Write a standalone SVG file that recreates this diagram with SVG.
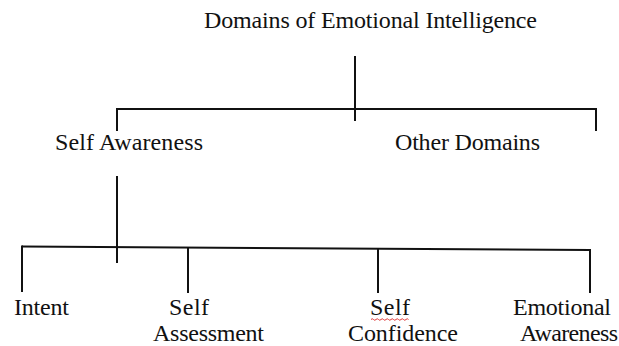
<svg xmlns="http://www.w3.org/2000/svg" width="619" height="346" viewBox="0 0 619 346">
<style>
.t{font-family:"Liberation Serif","Times New Roman",serif;font-size:24px;fill:#111;}
.c line{stroke:#111;stroke-width:2;}
</style>
<rect width="619" height="346" fill="#fff"/>
<g class="c" id="connectors">
<line x1="355" y1="56" x2="355" y2="121"/>
<line x1="117" y1="109" x2="596" y2="109"/>
<line x1="117" y1="108" x2="117" y2="131"/>
<line x1="596" y1="108" x2="596" y2="131"/>
<line x1="117" y1="176" x2="117" y2="263"/>
<line x1="22" y1="246.5" x2="590" y2="250"/>
<line x1="22" y1="245.5" x2="22" y2="292"/>
<line x1="188" y1="247.5" x2="188" y2="293"/>
<line x1="378" y1="248.5" x2="378" y2="293"/>
<line x1="590" y1="249" x2="590" y2="293"/>
</g>
<g id="root"><text class="t" x="204" y="28" textLength="333">Domains of Emotional Intelligence</text></g>
<g id="self-awareness"><text class="t" x="55" y="150" textLength="148">Self Awareness</text></g>
<g id="other-domains"><text class="t" x="395" y="150" textLength="145">Other Domains</text></g>
<g id="intent"><text class="t" x="14" y="315" textLength="55">Intent</text></g>
<g id="self-assessment"><text class="t" x="169" y="315" textLength="40">Self</text><text class="t" x="153" y="341" textLength="111">Assessment</text></g>
<g id="self-confidence"><text class="t" x="370" y="315" textLength="40">Self</text><text class="t" x="348" y="341" textLength="110">Confidence</text>
<path d="M371 319.5 q1.25 -1.5 2.5 0 t2.5 0 t2.5 0 t2.5 0 t2.5 0 t2.5 0 t2.5 0 t2.5 0 t2.5 0 t2.5 0 t2.5 0 t2.5 0 t2.5 0 t2.5 0 t2.5 0" fill="none" stroke="#d22" stroke-width="0.9"/></g>
<g id="emotional-awareness"><text class="t" x="513" y="315" textLength="98">Emotional</text><text class="t" x="520" y="341" textLength="98">Awareness</text></g>
</svg>
